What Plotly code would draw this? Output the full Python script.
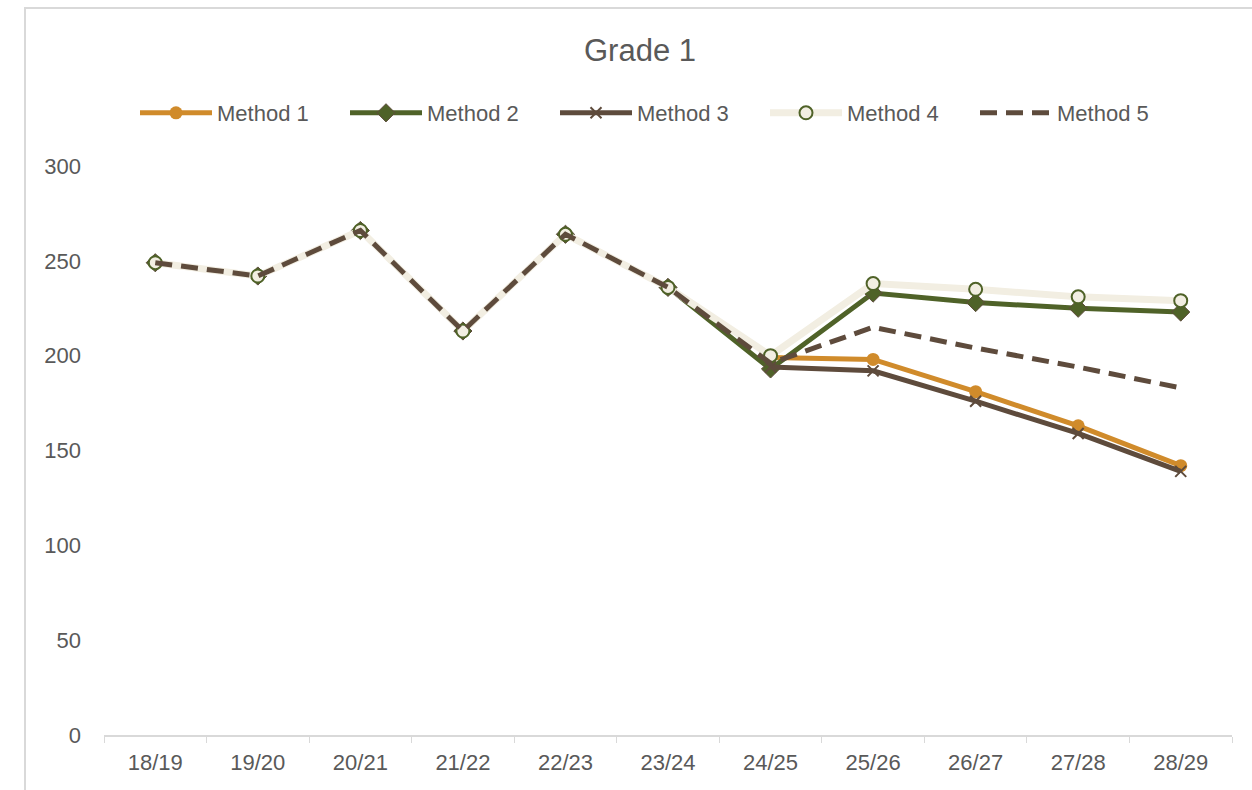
import plotly.graph_objects as go

categories = ["18/19", "19/20", "20/21", "21/22", "22/23", "23/24",
              "24/25", "25/26", "26/27", "27/28", "28/29"]
history = [249, 242, 266, 213, 264, 236]
method1 = [None] * 6 + [199, 198, 181, 163, 142]
method2 = history + [193, 233, 228, 225, 223]
method3 = [None] * 6 + [194, 192, 176, 159, 139]
method4 = history + [200, 238, 235, 231, 229]
method5 = history + [196, 215, 204, 194, 183]
y_ticks = [0, 50, 100, 150, 200, 250, 300]

ORANGE = "#D08B2B"
GREEN = "#4F6228"
BROWN = "#5E4B3C"
CREAM = "#F2EEE2"
TEXT = "#595959"
FONT = "Liberation Sans, Arial, sans-serif"

fig = go.Figure()
fig.add_trace(go.Scatter(x=categories, y=method1, name="Method 1", mode="lines+markers",
                         line=dict(color=ORANGE, width=5),
                         marker=dict(symbol="circle", size=13, color=ORANGE)))
fig.add_trace(go.Scatter(x=categories, y=method2, name="Method 2", mode="lines+markers",
                         line=dict(color=GREEN, width=5),
                         marker=dict(symbol="diamond", size=14, color=GREEN,
                                     line=dict(color=BROWN, width=1))))
fig.add_trace(go.Scatter(x=categories, y=method3, name="Method 3", mode="lines+markers",
                         line=dict(color=BROWN, width=5),
                         marker=dict(symbol="x-thin", size=11, color=BROWN,
                                     line=dict(color=BROWN, width=2))))
fig.add_trace(go.Scatter(x=categories, y=method4, name="Method 4", mode="lines+markers",
                         line=dict(color=CREAM, width=7),
                         marker=dict(symbol="circle", size=13, color=CREAM,
                                     line=dict(color=GREEN, width=2))))
fig.add_trace(go.Scatter(x=categories, y=method5, name="Method 5", mode="lines",
                         line=dict(color=BROWN, width=5, dash="17px,9px")))

# chart frame (cropped at right/bottom in the reference)
plot_l, plot_r, plot_t, plot_b = 104, 1232, 166, 735
pw, ph = plot_r - plot_l, plot_b - plot_t
def px(x): return (x - plot_l) / pw
def py(y): return (plot_b - y) / ph
fig.add_shape(type="path", xref="paper", yref="paper",
              path=f"M {px(25)},{py(800)} L {px(25)},{py(8)} L {px(1260)},{py(8)}",
              line=dict(color="#D9D9D9", width=2))

fig.update_layout(
    width=1252, height=790,
    margin=dict(l=plot_l, r=1252 - plot_r, t=plot_t, b=790 - plot_b, autoexpand=False),
    paper_bgcolor="white", plot_bgcolor="white",
    font=dict(family=FONT, color=TEXT, size=22),
    title=dict(text="Grade 1", x=640 / 1252, xanchor="center", y=1 - 50 / 790, yanchor="middle",
               font=dict(size=31, color=TEXT, family=FONT)),
    showlegend=True,
    legend=dict(orientation="h", x=px(135), xanchor="left", y=py(113), yanchor="middle",
                font=dict(size=22, color=TEXT), itemwidth=72,
                entrywidth=123, entrywidthmode="pixels", bgcolor="rgba(0,0,0,0)"),
    xaxis=dict(type="category", categoryorder="array", categoryarray=categories,
               range=[-0.5, len(categories) - 0.5], autorange=False,
               showgrid=False, showline=True, linecolor="#D9D9D9", linewidth=2,
               ticks="outside", tickson="boundaries", ticklen=6, tickcolor="#D9D9D9",
               tickwidth=1, tickfont=dict(size=22, color=TEXT), zeroline=False,
               ticklabelstandoff=7),
    yaxis=dict(range=[0, 300], tickvals=y_ticks, showgrid=False, showline=False,
               zeroline=False, ticks="", tickfont=dict(size=22, color=TEXT),
               ticklabelstandoff=22),
)

fig.write_html("out.html", config={"displayModeBar": False},
               post_script="document.body.style.margin='0';document.body.style.overflow='hidden';")
